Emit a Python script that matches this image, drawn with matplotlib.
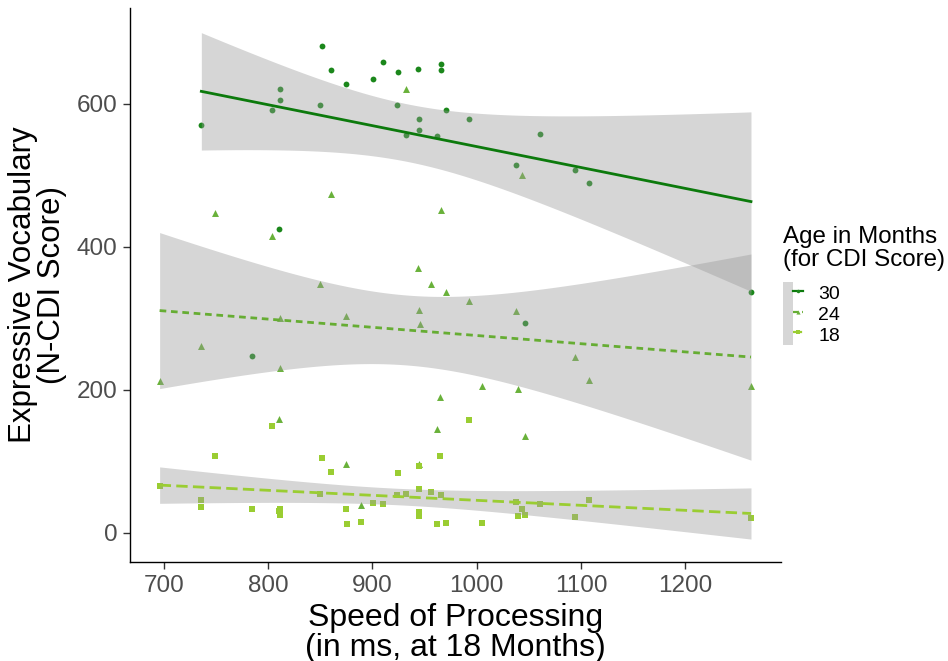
import numpy as np
import matplotlib
matplotlib.use("Agg")
import matplotlib.pyplot as plt
from matplotlib.lines import Line2D
from matplotlib.patches import Patch
from matplotlib.legend_handler import HandlerTuple

plt.rcParams['font.family'] = ['Liberation Sans', 'DejaVu Sans']

# Expressive vocabulary (N-CDI score) against speed of processing at 18 months
x30 = [736, 804, 810, 811, 811, 850, 852, 860, 875, 901, 910, 924, 925, 932,
       944, 945, 945, 962, 966, 966, 971, 993, 1038, 1046, 1061, 1094, 1108,
       1263, 785]
y30 = [570, 592, 425, 621, 606, 598, 681, 648, 628, 635, 658, 599, 644, 556,
       649, 579, 564, 555, 656, 648, 592, 579, 515, 293, 558, 508, 489,
       337, 248]

x24 = [932, 749, 860, 804, 966, 944, 1043, 956, 971, 850, 811, 875, 945, 946,
       736, 811, 696, 965, 810, 993, 1038, 1094, 1108, 1005, 1040, 1263, 875,
       945, 962, 889, 1046]
y24 = [621, 447, 474, 415, 451, 371, 500, 348, 337, 348, 301, 304, 312, 292,
       262, 231, 213, 190, 160, 324, 311, 246, 214, 206, 202, 206, 97,
       96, 145, 39, 136]

x18 = [804, 749, 852, 860, 945, 965, 925, 696, 736, 736, 785, 811, 810, 811,
       850, 875, 876, 889, 901, 910, 924, 932, 945, 945, 945, 956, 966, 962,
       971, 993, 1005, 1038, 1043, 1040, 1046, 1061, 1094, 1108, 1263]
y18 = [150, 107, 105, 85, 93, 108, 84, 66, 46, 36, 34, 34, 31, 25,
       55, 33, 12, 15, 42, 40, 53, 55, 61, 30, 24, 57, 53, 12,
       14, 158, 14, 44, 34, 24, 25, 41, 22, 46, 21]

age_labels = ["30", "24", "18"]
x_ticks = [700, 800, 900, 1000, 1100, 1200]
y_ticks = [0, 200, 400, 600]

series = [
    dict(x=x30, y=y30, pt="#1B871B", ln="#0C7A0C", marker="o", ms=4.2,
         dash="-"),
    dict(x=x24, y=y24, pt="#69B13A", ln="#66AD33", marker="^", ms=5.0,
         dash=(0, (2.4, 1.7))),
    dict(x=x18, y=y18, pt="#9ACD32", ln="#9ACD32", marker="s", ms=4.0,
         dash=(0, (4.1, 1.9))),
]


def t_quantile(df, z=1.959963985):
    # Cornish-Fisher expansion of the Student t 97.5% quantile
    return (z + (z**3 + z) / (4 * df)
            + (5 * z**5 + 16 * z**3 + 3 * z) / (96 * df**2)
            + (3 * z**7 + 19 * z**5 + 17 * z**3 - 15 * z) / (384 * df**3))


def lm_band(x, y, n=120):
    x = np.asarray(x, float)
    y = np.asarray(y, float)
    b, a = np.polyfit(x, y, 1)
    resid = y - (a + b * x)
    dof = len(x) - 2
    s = np.sqrt(np.sum(resid**2) / dof)
    sxx = np.sum((x - x.mean())**2)
    gx = np.linspace(x.min(), x.max(), n)
    fit = a + b * gx
    se = s * np.sqrt(1 / len(x) + (gx - x.mean())**2 / sxx)
    t = t_quantile(dof)
    return gx, fit, fit - t * se, fit + t * se


fig = plt.figure(figsize=(9.48, 6.61), dpi=100)
ax = fig.add_axes([130 / 948, 1 - 562 / 661, (780.6 - 130) / 948,
                   (562 - 8) / 661])

handles = []
for s in series:
    ax.scatter(s["x"], s["y"], s=s["ms"]**2, marker=s["marker"],
               color=s["pt"], linewidths=0, zorder=2)
for s in series:
    gx, fit, lo, hi = lm_band(s["x"], s["y"])
    ax.fill_between(gx, lo, hi, color="#999999", alpha=0.4, linewidth=0,
                    zorder=3)
    ax.plot(gx, fit, color=s["ln"], linewidth=2.0, linestyle=s["dash"],
            zorder=4)
    key_bg = Patch(facecolor="#D6D6D6", edgecolor="none")
    key_ln = Line2D([], [], color=s["ln"], linewidth=1.6,
                    linestyle=s["dash"], marker=s["marker"],
                    markersize=s["ms"] * 0.6, markerfacecolor=s["pt"],
                    markeredgewidth=0)
    handles.append((key_bg, key_ln))

ax.set_xlim(667.6, 1291.4)
ax.set_ylim(-40.6, 734.2)
ax.set_xticks(x_ticks)
ax.set_yticks(y_ticks)
ax.tick_params(axis="both", labelsize=17.5, labelcolor="#4D4D4D",
               color="#333333", length=5, width=1.0, pad=4)
for side in ("top", "right"):
    ax.spines[side].set_visible(False)
for side in ("left", "bottom"):
    ax.spines[side].set_linewidth(1.0)
    ax.spines[side].set_color("black")

ax.set_xlabel("Speed of Processing\n(in ms, at 18 Months)", fontsize=23,
              linespacing=0.97, labelpad=5)
ax.set_ylabel("Expressive Vocabulary\n(N-CDI Score)", fontsize=22.5,
              linespacing=0.97, labelpad=7)

leg = fig.legend(handles, age_labels, loc="upper left",
                 bbox_to_anchor=(779 / 948, 1 - 222 / 661),
                 title="Age in Months\n(for CDI Score)", title_fontsize=17.4,
                 fontsize=14, frameon=False, handlelength=1.03,
                 handleheight=1.25, labelspacing=0.0, handletextpad=0.8,
                 borderpad=0.2, borderaxespad=0,
                 handler_map={tuple: HandlerTuple(ndivide=None, pad=0)})
leg._legend_box.align = "left"
leg._legend_box.sep = 8
leg.get_title().set_linespacing(1.08)

fig.savefig("out.png", dpi=100)
